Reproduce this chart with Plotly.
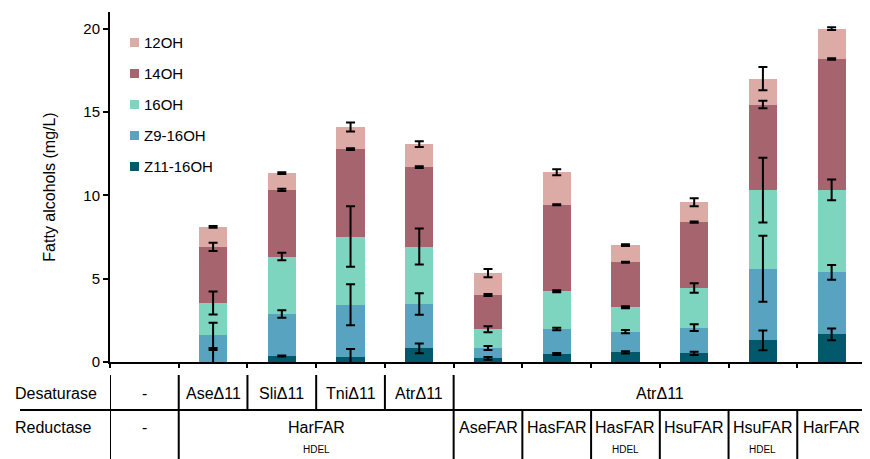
import plotly.graph_objects as go
import numpy as np

categories = ["-", "AseΔ11", "SliΔ11", "TniΔ11", "AtrΔ11", "AseFAR", "HasFAR",
              "HasFAR HDEL", "HsuFAR", "HsuFAR HDEL", "HarFAR"]

# segment values (mg/L), stacked bottom -> top
z11_16oh = [None, 0.02, 0.36, 0.28, 0.82, 0.22, 0.48, 0.58, 0.52, 1.30, 1.66]
z9_16oh  = [None, 1.58, 2.52, 3.16, 2.66, 0.62, 1.50, 1.24, 1.54, 4.30, 3.72]
oh16     = [None, 1.94, 3.45, 4.09, 3.45, 1.12, 2.26, 1.46, 2.38, 4.71, 4.95]
oh14     = [None, 3.37, 4.00, 5.24, 4.76, 2.06, 5.19, 2.71, 3.95, 5.14, 7.85]
oh12     = [None, 1.20, 1.00, 1.33, 1.38, 1.31, 1.96, 1.02, 1.20, 1.55, 1.82]

# error bars (SD)
z11_err = [0, 0.70, 0.03, 0.50, 0.29, 0.08, 0.06, 0.07, 0.10, 0.59, 0.35]
z9_err  = [0, 0.76, 0.23, 1.23, 0.64, 0.12, 0.08, 0.10, 0.20, 1.98, 0.44]
oh16_err = [0, 0.69, 0.22, 1.82, 1.08, 0.18, 0.06, 0.06, 0.29, 1.94, 0.62]
oh14_err = [0, 0.25, 0.07, 0.05, 0.05, 0.06, 0.03, 0.03, 0.04, 0.23, 0.05]
oh12_err = [0, 0.05, 0.05, 0.27, 0.17, 0.25, 0.18, 0.05, 0.24, 0.70, 0.08]

series_names = ["Z11-16OH", "Z9-16OH", "16OH", "14OH", "12OH"]
series_vals = [z11_16oh, z9_16oh, oh16, oh14, oh12]
series_errs = [z11_err, z9_err, oh16_err, oh14_err, oh12_err]
series_cols = ["#03596c", "#58a4c0", "#7dd5bf", "#a6646f", "#dcaba6"]

desat_single = ["-", "AseΔ11", "SliΔ11", "TniΔ11", "AtrΔ11"]
reduct_right = ["AseFAR", "HasFAR", "HasFAR", "HsuFAR", "HsuFAR", "HarFAR"]
hdel_right = ["", "", "HDEL", "", "HDEL", ""]

FONT = "Liberation Sans, Arial, sans-serif"

fig = go.Figure()
for name, vals, col in zip(series_names, series_vals, series_cols):
    fig.add_trace(go.Bar(
        x=categories, y=vals, name=name, showlegend=False,
        marker=dict(color=col, line=dict(width=0)),
    ))

# error bars drawn on top of all stacked segments, at each segment's top
arr = np.array([[np.nan if v is None else v for v in s] for s in series_vals], dtype=float)
tops = np.cumsum(arr, axis=0)
for name, top, errs in zip(series_names, tops, series_errs):
    yv = [None if np.isnan(t) else float(t) for t in top]
    fig.add_trace(go.Scatter(
        x=categories, y=yv, mode="markers", showlegend=False, hoverinfo="skip",
        marker=dict(size=1, color="rgba(0,0,0,0)"),
        error_y=dict(type="data", array=errs, visible=True, color="black",
                     thickness=2, width=4.5),
    ))

# page has an 8px body margin; figure sized to fill the rest
OFF = 8
W, H = 870 - OFF, 459 - OFF
PL, PR, PT, PB = 110, 866, 12, 362  # plot area in page pixels
L, R, T, B = PL - OFF, (870 - PR), PT - OFF, (459 - PB)
pw, ph = PR - PL, PB - PT


def py(pix):
    return (PB - pix) / ph


def px(pix):
    return (pix - PL) / pw


shapes = []
ann = []
line = dict(color="black", width=2)
shapes.append(dict(type="line", xref="paper", yref="paper", x0=px(20), x1=px(872),
                   y0=py(410), y1=py(410), line=line))
for xb in [-0.5, 0.5, 4.5]:
    shapes.append(dict(type="line", xref="x", yref="paper", x0=xb, x1=xb,
                       y0=py(375), y1=py(462), line=line))
for xb in [1.5, 2.5, 3.5]:
    shapes.append(dict(type="line", xref="x", yref="paper", x0=xb, x1=xb,
                       y0=py(375), y1=py(410), line=line))
for xb in [5.5, 6.5, 7.5, 8.5, 9.5]:
    shapes.append(dict(type="line", xref="x", yref="paper", x0=xb, x1=xb,
                       y0=py(410), y1=py(462), line=line))

tf = dict(family=FONT, size=16, color="black")
sf = dict(family=FONT, size=10, color="black")
ann.append(dict(text="Desaturase", xref="paper", yref="paper", x=px(13), y=py(393),
                xanchor="left", yanchor="middle", showarrow=False, font=tf))
ann.append(dict(text="Reductase", xref="paper", yref="paper", x=px(13), y=py(427),
                xanchor="left", yanchor="middle", showarrow=False, font=tf))
for i, t in enumerate(desat_single):
    ann.append(dict(text=t, xref="x", yref="paper", x=i, y=py(393), showarrow=False,
                    xanchor="center", yanchor="middle", font=tf))
ann.append(dict(text="AtrΔ11", xref="x", yref="paper", x=7.5, y=py(393), showarrow=False,
                xanchor="center", yanchor="middle", font=tf))
ann.append(dict(text="-", xref="x", yref="paper", x=0, y=py(427), showarrow=False,
                xanchor="center", yanchor="middle", font=tf))
ann.append(dict(text="HarFAR", xref="x", yref="paper", x=2.5, y=py(427), showarrow=False,
                xanchor="center", yanchor="middle", font=tf))
ann.append(dict(text="HDEL", xref="x", yref="paper", x=2.5, y=py(449), showarrow=False,
                xanchor="center", yanchor="middle", font=sf))
for j, t in enumerate(reduct_right):
    ann.append(dict(text=t, xref="x", yref="paper", x=5 + j, y=py(427), showarrow=False,
                    xanchor="center", yanchor="middle", font=tf))
    if hdel_right[j]:
        ann.append(dict(text=hdel_right[j], xref="x", yref="paper", x=5 + j, y=py(449),
                        showarrow=False, xanchor="center", yanchor="middle", font=sf))

# legend (top to bottom: 12OH ... Z11-16OH)
leg_centers = [42.5, 73.5, 104.5, 135.5, 166.5]
for k, idx in enumerate(range(len(series_names) - 1, -1, -1)):
    cy = leg_centers[k]
    shapes.append(dict(type="rect", xref="paper", yref="paper",
                       x0=px(130), x1=px(139), y0=py(cy + 4.5), y1=py(cy - 4.5),
                       fillcolor=series_cols[idx], line=dict(width=0)))
    ann.append(dict(text=series_names[idx], xref="paper", yref="paper", x=px(142),
                    y=py(cy), xanchor="left", yanchor="middle", showarrow=False,
                    font=dict(family=FONT, size=15, color="black")))

fig.update_layout(
    width=W, height=H,
    margin=dict(l=L, r=R, t=T, b=B, autoexpand=False),
    barmode="stack", bargap=0.59,
    plot_bgcolor="white", paper_bgcolor="white",
    font=dict(family=FONT, size=15, color="black"),
    showlegend=False,
    xaxis=dict(type="category", categoryorder="array", categoryarray=categories,
               range=[-0.5, 10.5], showticklabels=False, ticks="outside",
               tickson="boundaries", ticklen=4, tickwidth=2, tickcolor="black",
               showline=True, linecolor="black", linewidth=2, showgrid=False,
               zeroline=False),
    yaxis=dict(range=[0, 21], tickvals=[0, 5, 10, 15, 20], ticks="outside",
               ticklen=5, tickwidth=2, tickcolor="black", showline=True,
               linecolor="black", linewidth=2, showgrid=False, zeroline=False,
               title=dict(text="Fatty alcohols (mg/L)", font=dict(family=FONT, size=16),
                          standoff=24),
               tickfont=dict(family=FONT, size=15)),
    shapes=shapes, annotations=ann,
)

fig.write_html("out.html")
